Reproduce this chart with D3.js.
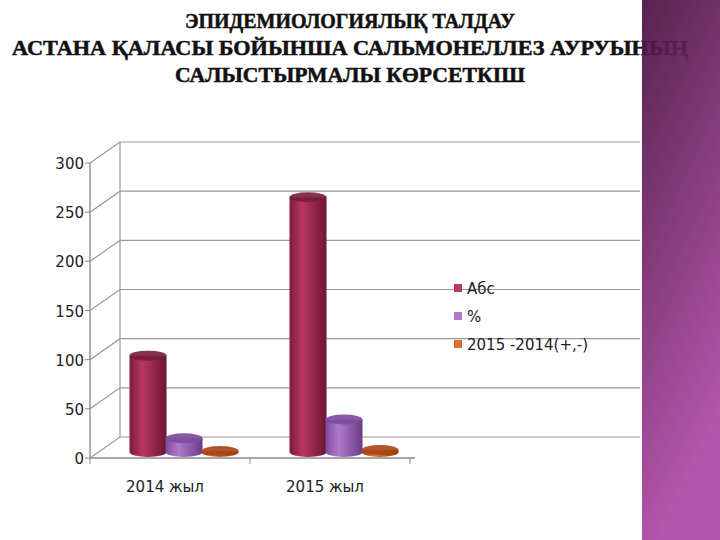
<!DOCTYPE html><html><head><meta charset="utf-8"><script src="https://cdn.jsdelivr.net/npm/d3@7"></script>
<style>body{margin:0;background:#fff}</style></head><body><svg id="c" width="720" height="540"></svg>
<script>
const categories=["2014 жыл","2015 жыл"];
const seriesNames=["Абс","%","2015 -2014(+,-)"];
const abs=[98,259];
const pct=[14,33];
const diff=[1,2];
const yTicks=[0,50,100,150,200,250,300];
const titleLines=["ЭПИДЕМИОЛОГИЯЛЫҚ ТАЛДАУ","АСТАНА ҚАЛАСЫ БОЙЫНША САЛЬМОНЕЛЛЕЗ АУРУЫНЫҢ","САЛЫСТЫРМАЛЫ КӨРСЕТКІШ"];
const colors=[["#7a1c3c","#b8385f","#6d1533"],["#7d4a9e","#b07acc","#6a3b88"],["#a84414","#e0702f","#93380c"]];
const svg=d3.select("#c");
const defs=svg.append("defs");
colors.forEach((c,i)=>{const g=defs.append("linearGradient").attr("id","g"+i);
g.append("stop").attr("offset","0").attr("stop-color",c[0]);g.append("stop").attr("offset","0.35").attr("stop-color",c[1]);g.append("stop").attr("offset","1").attr("stop-color",c[2]);});
const pg=defs.append("linearGradient").attr("id","pan").attr("x1",0).attr("y1",0).attr("x2",0.3).attr("y2",1);
pg.append("stop").attr("offset","0").attr("stop-color","#4a1240");pg.append("stop").attr("offset","1").attr("stop-color","#b04aa8");
svg.selectAll("text.t").data(titleLines).join("text").attr("x",350).attr("y",(d,i)=>28+i*27)
 .attr("text-anchor","middle").attr("font-family","Liberation Serif").attr("font-weight","bold").attr("font-size",20)
 .attr("stroke","#111").attr("stroke-width",0.5)
 .attr("textLength",(d,i)=>[330,676,350][i]).attr("lengthAdjust","spacingAndGlyphs").attr("fill","#111").text(d=>d);
svg.append("rect").attr("x",642).attr("y",0).attr("width",78).attr("height",540).attr("fill","url(#pan)").attr("opacity",0.93);
const y=d3.scaleLinear().domain([0,300]).range([458,163]);
const x0=d3.scaleBand().domain(categories).range([90,410]);
const x1=d3.scaleBand().domain(seriesNames).range([40,148]);
const dx=30,dy=-21;
const g=svg.append("g");
g.selectAll("path.grid").data(yTicks).join("path").attr("fill","none").attr("stroke","#999").attr("stroke-width",1.2)
 .attr("d",d=>`M90,${y(d)}L${90+dx},${y(d)+dy}L640,${y(d)+dy}`);
g.append("line").attr("x1",90+dx).attr("x2",90+dx).attr("y1",y(0)+dy).attr("y2",y(300)+dy).attr("stroke","#999").attr("stroke-width",1.2);
g.append("line").attr("x1",90).attr("x2",90).attr("y1",y(0)).attr("y2",y(300)).attr("stroke","#888").attr("stroke-width",1.3);
g.append("line").attr("x1",90).attr("x2",415).attr("y1",y(0)).attr("y2",y(0)).attr("stroke","#888").attr("stroke-width",1.3);
g.selectAll("line.tk").data([90,250,410]).join("line").attr("x1",d=>d).attr("x2",d=>d).attr("y1",y(0)).attr("y2",y(0)+6).attr("stroke","#888");
g.selectAll("line.yt").data(yTicks).join("line").attr("x1",85).attr("x2",90).attr("y1",d=>y(d)).attr("y2",d=>y(d)).attr("stroke","#888");
g.selectAll("text.yl").data(yTicks).join("text").attr("x",84).attr("y",d=>y(d)+6).attr("text-anchor","end")
 .attr("font-family","DejaVu Sans").attr("font-size",15).attr("fill","#222").text(d=>d);
g.selectAll("text.xl").data(categories).join("text").attr("x",d=>x0(d)+x0.bandwidth()/2-5).attr("y",492).attr("text-anchor","middle")
 .attr("font-family","DejaVu Sans").attr("font-size",15).attr("fill","#222").text(d=>d);
const data=[abs,pct,diff];
const base=y(0)-6,w=37,ry=5;
categories.forEach((c,ci)=>{seriesNames.forEach((s,si)=>{
 const cx=x0(c)+x1(s)+x1.bandwidth()/2, top=base-(y(0)-y(data[si][ci]));
 const bar=g.append("g");
 bar.append("path").attr("fill",`url(#g${si})`).attr("d",`M${cx-w/2},${top}L${cx-w/2},${base}A${w/2},${ry} 0 0 0 ${cx+w/2},${base}L${cx+w/2},${top}Z`);
 bar.append("ellipse").attr("cx",cx).attr("cy",top).attr("rx",w/2).attr("ry",ry).attr("fill",colors[si][0]).attr("opacity",0.9);
});});
const lg=svg.append("g");
seriesNames.forEach((s,i)=>{lg.append("rect").attr("x",454).attr("y",284+i*28).attr("width",8).attr("height",8).attr("fill",colors[i][1]);
lg.append("text").attr("x",467).attr("y",294+i*28).attr("font-family","DejaVu Sans").attr("font-size",15).attr("fill","#222").text(s);});
</script></body></html>
